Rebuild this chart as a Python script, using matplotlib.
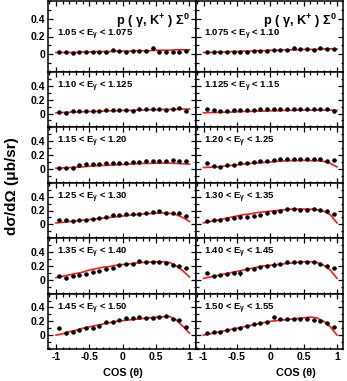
import matplotlib
matplotlib.use("Agg")
import matplotlib.pyplot as plt
import numpy as np
from matplotlib.ticker import FixedLocator, MultipleLocator

# photon energy bins (GeV), left/right column per row
bins_left = ["1.05", "1.10", "1.15", "1.25", "1.35", "1.45"]
bins_left_hi = ["1.075", "1.125", "1.20", "1.30", "1.40", "1.50"]
bins_right = ["1.075", "1.125", "1.20", "1.30", "1.40", "1.50"]
bins_right_hi = ["1.10", "1.15", "1.25", "1.35", "1.45", "1.55"]

# cos(theta) bin centres for data, and sampling of the model curve
cos_pts = [-0.95, -0.85, -0.75, -0.65, -0.55, -0.45, -0.35, -0.25, -0.15, -0.05,
           0.05, 0.15, 0.25, 0.35, 0.45, 0.55, 0.65, 0.75, 0.85, 0.95]
cos_curve = [-1.0, -0.9, -0.8, -0.7, -0.6, -0.5, -0.4, -0.3, -0.2, -0.1, 0.0,
             0.1, 0.2, 0.3, 0.4, 0.5, 0.6, 0.7, 0.8, 0.9, 1.0]

# measured dsigma/dOmega (ub/sr)
pts_1050 = [0.02, 0.02, 0.01, 0.02, 0.03, 0.03, 0.02, 0.03, 0.05, 0.04,
            0.03, 0.04, 0.04, 0.04, 0.07, 0.02, 0.02, 0.03, 0.03, 0.04]
pts_1075 = [0.02, 0.03, 0.02, 0.03, 0.03, 0.03, 0.03, 0.04, 0.04, 0.04,
            0.05, 0.05, 0.05, 0.07, 0.06, 0.06, 0.05, 0.07, 0.06, 0.06]
pts_1100 = [0.02, 0.01, 0.03, 0.04, 0.04, 0.03, 0.04, 0.05, 0.05, 0.05,
            0.05, 0.04, 0.06, 0.06, 0.07, 0.06, 0.05, 0.06, 0.08, 0.04]
pts_1125 = [0.07, 0.05, 0.04, 0.04, 0.05, 0.05, 0.05, 0.05, 0.06, 0.06,
            0.06, 0.07, 0.07, 0.07, 0.07, 0.07, 0.06, 0.06, 0.06, 0.04]
pts_1150 = [0.02, 0.02, 0.01, 0.06, 0.07, 0.07, 0.07, 0.08, 0.08, 0.09,
            0.09, 0.10, 0.10, 0.11, 0.12, 0.11, 0.12, 0.13, 0.12, 0.11]
pts_1200 = [0.08, 0.04, 0.03, 0.06, 0.06, 0.09, 0.09, 0.10, 0.11, 0.12,
            0.13, 0.14, 0.15, 0.15, 0.15, 0.15, 0.15, 0.15, 0.12, 0.13]
pts_1250 = [0.06, 0.06, 0.05, 0.06, 0.07, 0.08, 0.09, 0.11, 0.13, 0.14,
            0.15, 0.15, 0.15, 0.16, 0.18, 0.19, 0.17, 0.17, 0.16, 0.12]
pts_1300 = [0.05, 0.06, 0.07, 0.08, 0.09, 0.10, 0.11, 0.12, 0.14, 0.16,
            0.18, 0.20, 0.22, 0.22, 0.21, 0.21, 0.22, 0.21, 0.19, 0.15]
pts_1350 = [0.05, 0.03, 0.06, 0.07, 0.09, 0.11, 0.12, 0.15, 0.17, 0.22,
            0.23, 0.23, 0.27, 0.25, 0.25, 0.25, 0.24, 0.22, 0.20, 0.17]
pts_1400 = [0.10, 0.06, 0.07, 0.09, 0.10, 0.10, 0.15, 0.16, 0.18, 0.20,
            0.22, 0.23, 0.25, 0.26, 0.26, 0.26, 0.25, 0.23, 0.20, 0.17]
pts_1450 = [0.10, 0.03, 0.05, 0.07, 0.10, 0.11, 0.13, 0.19, 0.19, 0.22,
            0.25, 0.25, 0.26, 0.25, 0.25, 0.26, 0.28, 0.23, 0.22, 0.12]
pts_1500 = [0.03, 0.05, 0.04, 0.07, 0.09, 0.11, 0.13, 0.16, 0.18, 0.19,
            0.26, 0.24, 0.23, 0.23, 0.23, 0.23, 0.22, 0.21, 0.17, 0.12]

# statistical errors (only a few stand out)
err_1050 = [0.01] * 20
err_1075 = [0.01] * 20
err_1100 = [0.01] * 20
err_1125 = [0.01] * 19 + [0.02]
err_1150 = [0.01] * 20
err_1200 = [0.01] * 20
err_1250 = [0.01] * 20
err_1300 = [0.01] * 20
err_1350 = [0.01] * 20
err_1400 = [0.015, 0.01, 0.01, 0.01, 0.01, 0.04, 0.01, 0.01, 0.01, 0.01,
            0.03, 0.01, 0.01, 0.01, 0.01, 0.01, 0.01, 0.01, 0.01, 0.01]
err_1450 = [0.015] + [0.01] * 19
err_1500 = [0.01] * 10 + [0.02] + [0.01] * 9

# model curves
curve_1050 = [0.02, 0.02, 0.02, 0.02, 0.025, 0.025, 0.03, 0.03, 0.03, 0.035, 0.035,
              0.035, 0.04, 0.04, 0.04, 0.045, 0.045, 0.045, 0.05, 0.05, 0.05]
curve_1075 = [0.02, 0.02, 0.025, 0.025, 0.03, 0.03, 0.035, 0.035, 0.04, 0.04, 0.045,
              0.045, 0.05, 0.05, 0.05, 0.055, 0.055, 0.055, 0.06, 0.06, 0.06]
curve_1100 = [0.01, 0.015, 0.02, 0.02, 0.025, 0.03, 0.03, 0.035, 0.04, 0.04, 0.045,
              0.045, 0.05, 0.05, 0.055, 0.055, 0.06, 0.06, 0.06, 0.065, 0.065]
curve_1125 = [0.01, 0.015, 0.015, 0.02, 0.02, 0.025, 0.03, 0.03, 0.035, 0.035, 0.04,
              0.04, 0.045, 0.045, 0.05, 0.05, 0.05, 0.05, 0.05, 0.05, 0.045]
curve_1150 = [0.01, 0.015, 0.02, 0.025, 0.03, 0.04, 0.045, 0.05, 0.055, 0.06, 0.065,
              0.07, 0.075, 0.08, 0.08, 0.085, 0.085, 0.085, 0.08, 0.075, 0.07]
curve_1200 = [0.02, 0.025, 0.03, 0.04, 0.05, 0.06, 0.07, 0.08, 0.085, 0.095, 0.10,
              0.11, 0.115, 0.12, 0.12, 0.125, 0.12, 0.12, 0.11, 0.08, 0.03]
curve_1250 = [0.02, 0.03, 0.04, 0.05, 0.06, 0.07, 0.08, 0.09, 0.10, 0.11, 0.12,
              0.13, 0.14, 0.15, 0.155, 0.16, 0.165, 0.16, 0.14, 0.10, 0.04]
curve_1300 = [0.02, 0.04, 0.06, 0.08, 0.10, 0.12, 0.14, 0.15, 0.17, 0.18, 0.19,
              0.20, 0.21, 0.22, 0.22, 0.22, 0.22, 0.21, 0.19, 0.14, 0.02]
curve_1350 = [0.03, 0.05, 0.07, 0.09, 0.11, 0.14, 0.16, 0.18, 0.19, 0.21, 0.22,
              0.23, 0.24, 0.25, 0.255, 0.26, 0.26, 0.25, 0.20, 0.13, 0.04]
curve_1400 = [0.02, 0.04, 0.06, 0.08, 0.10, 0.12, 0.14, 0.16, 0.18, 0.20, 0.21,
              0.22, 0.23, 0.24, 0.25, 0.26, 0.26, 0.25, 0.21, 0.14, 0.02]
curve_1450 = [0.0, 0.02, 0.05, 0.07, 0.10, 0.12, 0.14, 0.16, 0.18, 0.20, 0.21,
              0.22, 0.23, 0.24, 0.25, 0.26, 0.265, 0.27, 0.22, 0.13, 0.03]
curve_1500 = [0.0, 0.02, 0.04, 0.06, 0.08, 0.10, 0.12, 0.14, 0.16, 0.18, 0.20,
              0.21, 0.22, 0.23, 0.24, 0.25, 0.26, 0.25, 0.20, 0.12, 0.0]

points = [[pts_1050, pts_1075], [pts_1100, pts_1125], [pts_1150, pts_1200],
          [pts_1250, pts_1300], [pts_1350, pts_1400], [pts_1450, pts_1500]]
errors = [[err_1050, err_1075], [err_1100, err_1125], [err_1150, err_1200],
          [err_1250, err_1300], [err_1350, err_1400], [err_1450, err_1500]]
curves = [[curve_1050, curve_1075], [curve_1100, curve_1125], [curve_1150, curve_1200],
          [curve_1250, curve_1300], [curve_1350, curve_1400], [curve_1450, curve_1500]]

plt.rcParams.update({
    "font.family": ["Liberation Sans", "DejaVu Sans"],
    "font.weight": "bold",
    "mathtext.fontset": "custom",
    "mathtext.rm": "Liberation Sans:bold",
    "mathtext.it": "Liberation Sans:bold",
    "mathtext.bf": "Liberation Sans:bold",
    "mathtext.default": "rm",
})

W, H = 347, 381
fig = plt.figure(figsize=(W / 100, H / 100), dpi=100)

col_edges = [48, 195.5, 343]
row_edges = [1, 72] + [72 + (349 - 72) / 5 * k for k in range(1, 6)]

for r in range(6):
    for c in range(2):
        x0, x1 = col_edges[c], col_edges[c + 1]
        y0, y1 = row_edges[r], row_edges[r + 1]
        ax = fig.add_axes([x0 / W, 1 - y1 / H, (x1 - x0) / W, (y1 - y0) / H])
        ax.plot(cos_curve, curves[r][c], color="#ff1a1a", lw=1.2, zorder=2)
        ax.errorbar(cos_pts, points[r][c], yerr=errors[r][c], xerr=0.03,
                    fmt="o", ms=2.2, color="black", elinewidth=0.8,
                    capsize=0, zorder=3)
        ax.set_xlim(-1.12, 1.09)
        ax.set_ylim(-0.2, 0.6)
        ax.xaxis.set_major_locator(FixedLocator([-1, -0.5, 0, 0.5, 1]))
        ax.xaxis.set_minor_locator(MultipleLocator(0.1))
        ax.yaxis.set_major_locator(FixedLocator([0, 0.2, 0.4]))
        ax.yaxis.set_minor_locator(MultipleLocator(0.1))
        ax.tick_params(which="both", direction="in", top=True, right=True,
                       width=0.9, labelsize=7.5, pad=2)
        ax.tick_params(which="major", length=3.6)
        ax.tick_params(which="minor", length=1.8)
        for s in ax.spines.values():
            s.set_linewidth(1.1)
        ax.set_yticklabels(["0", "0.2", "0.4"] if c == 0 else [])
        if r == 5:
            ax.set_xticklabels(["-1", "-0.5", "0", "0.5", "1"])
        else:
            ax.set_xticklabels([])
        lo = bins_left[r] if c == 0 else bins_right[r]
        hi = bins_left_hi[r] if c == 0 else bins_right_hi[r]
        ylab = 0.52 if r == 0 else 0.73
        ax.text(0.06, ylab, f"{lo} < E$_\\gamma$ < {hi}", transform=ax.transAxes,
                fontsize=6.8, ha="left", va="center", fontweight="bold")
        if r == 0:
            ax.text(0.96, 0.72, "p ( $\\gamma$, K$^{+}$ ) $\\Sigma^{0}$",
                    transform=ax.transAxes, fontsize=9.2, ha="right",
                    va="center", fontweight="bold")

fig.text(12 / W, 1 - 186 / H, "d\u03c3/d\u03a9 (\u03bcb/sr)", rotation=90,
         fontsize=11, fontweight="bold", ha="center", va="center")
fig.text(123 / W, 1 - 373 / H, "COS (\u03b8)", fontsize=7.8, fontweight="bold",
         ha="center", va="center")
fig.text(296 / W, 1 - 373 / H, "COS (\u03b8)", fontsize=7.8, fontweight="bold",
         ha="center", va="center")

fig.savefig("out.png", dpi=100)
